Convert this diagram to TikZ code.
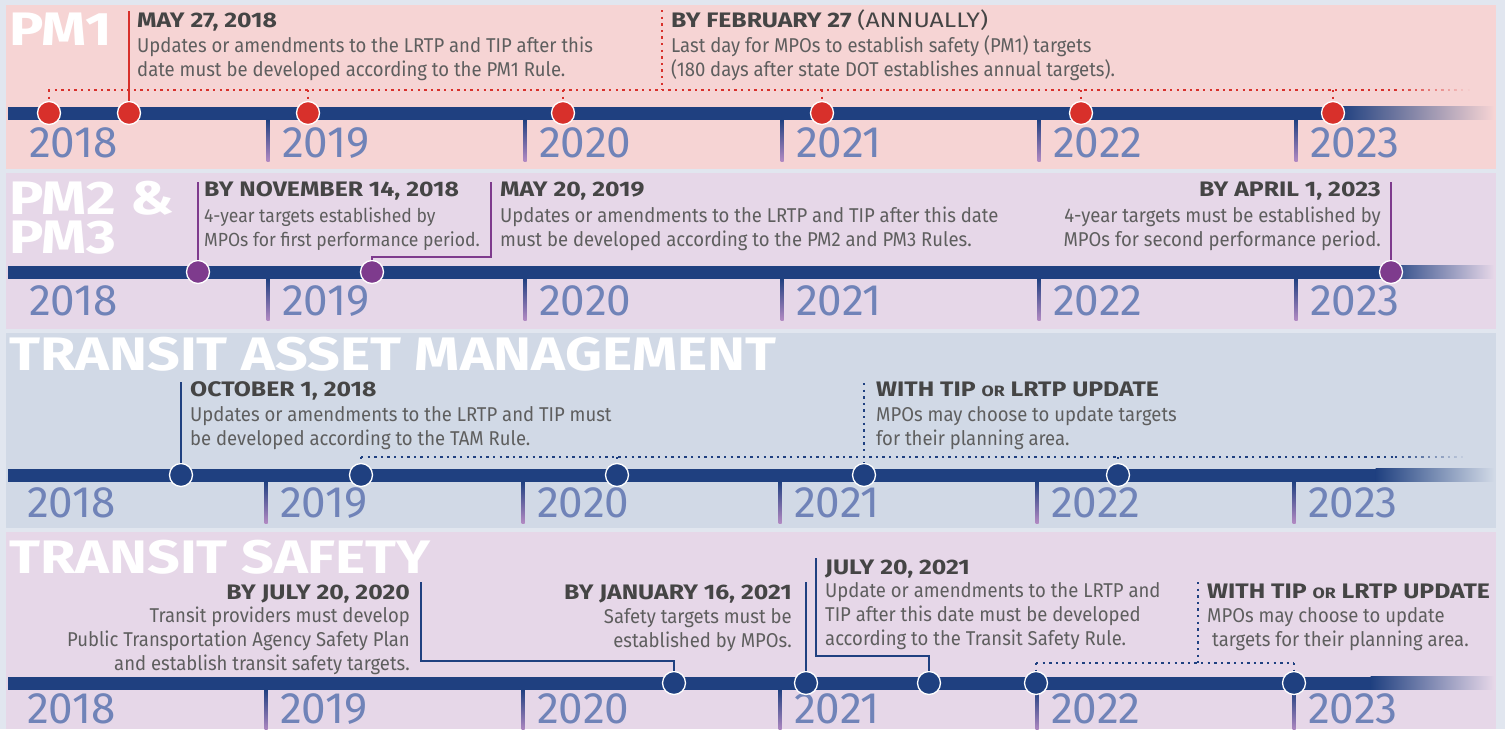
\documentclass[tikz,border=0pt]{standalone}
\usepackage{fontspec}
\usetikzlibrary{fadings}

\newfontfamily\bodyfont{Fira Sans}[FakeStretch=0.925]
\newfontfamily\headfont{Fira Sans}[FakeStretch=1.18]
\newfontfamily\titlefont{Fira Sans}[FakeStretch=1.22]
\newfontfamily\yearfont{Fira Sans}

\definecolor{bggray}{HTML}{E1E6EF}
\definecolor{pmonebg}{HTML}{F6D4D4}
\definecolor{pmtwobg}{HTML}{E6D7E8}
\definecolor{tambg}{HTML}{D1D9E6}
\definecolor{navy}{HTML}{1F4080}
\definecolor{dotred}{HTML}{D8302B}
\definecolor{plum}{HTML}{7E3B8D}
\definecolor{yeartxt}{HTML}{7083B8}
\definecolor{headtxt}{HTML}{454545}
\definecolor{bodytxt}{HTML}{5E5E5E}
\definecolor{ticklow}{HTML}{B38AC3}

\tikzfading[name=fadeout, left color=transparent!0, right color=transparent!100]

\tikzset{
  paneltitle/.style={anchor=base west, inner sep=0pt, text=white, align=left,
    font=\titlefont\bfseries\fontsize{47}{39}\selectfont},
  datehead/.style={anchor=base west, inner sep=0pt, text=headtxt,
    font=\headfont\bfseries\fontsize{21}{24}\selectfont},
  datebody/.style={anchor=base west, inner sep=0pt, text=bodytxt, align=left,
    font=\bodyfont\fontsize{20}{24}\selectfont},
  yearlbl/.style={anchor=base west, inner sep=0pt, text=yeartxt,
    font=\yearfont\fontsize{44}{44}\selectfont},
  tldot/.style={circle, fill=#1, draw=white, line width=1.3pt, minimum size=23pt, inner sep=0pt},
  solidlink/.style={draw=#1, line width=2.6pt},
  dotlink/.style={draw=#1, line width=2.4pt, dash pattern=on 2.4pt off 4.2pt},
}

\begin{document}
\begin{tikzpicture}[x=1pt,y=-1pt]
\fill[bggray] (0,0) rectangle (1505,729);
\useasboundingbox (0,0) rectangle (1505,729);

% panels
\fill[pmonebg] (6,5) rectangle (1496,169);
\fill[pmtwobg] (6,173) rectangle (1496,329);
\fill[tambg] (6,333) rectangle (1496,528);
\fill[pmtwobg] (6,532) rectangle (1496,729);

% timeline bars, year ticks and years
\foreach \by/\bend/\bgc/\dx/\ty [count=\r] in {113/1340/pmonebg/0/44, 272/1385/pmtwobg/0/43, 475/1376/tambg/-2/42, 683/1371/pmtwobg/-2/40} {
    \fill[navy] (8,\by-6.5) rectangle (\bend,\by+6.5);
    \shade[left color=navy, right color=\bgc] (\bend-0.5,\by-6.5) rectangle (1494,\by+6.5);
    \node[yearlbl] (yr\r-0) at (29+\dx,\by+\ty) {2018};
    \foreach \yr [count=\k] in {2019,2020,2021,2022,2023} {
        \shade[top color=navy, bottom color=ticklow] (11+257*\k+\dx-1.5,\by+6.5) rectangle +(3,42);
        \node[yearlbl] (yr\r-\k) at (25+257*\k+\dx,\by+\ty) {\yr};
    }
}

% panel titles
\node[paneltitle] (tpmone) at (9,45) {PM1};
\node[paneltitle] (tpmtwo) at (9,253) {PM2 \&\\PM3};
\node[paneltitle] (ttam) at (9,370) {TRANSIT ASSET MANAGEMENT};
\node[paneltitle] (tsafe) at (9,573) {TRANSIT SAFETY};

% PM1
\foreach \x [count=\i] in {49,129,308,563,822,1081,1333}
    \node[tldot=dotred] (pa\i) at (\x,113) {};
\coordinate (pmonetop) at (129,11);
\coordinate (febtop) at (662,10);
\coordinate (febhl) at (662,90);
\coordinate (pmonehl) at (48,90);
\coordinate (pmonefade) at (1395,90);
\coordinate (pmoneend) at (1470,90);
\draw[solidlink=dotred] (pmonetop) -- (pa2);
\draw[dotlink=dotred] (febtop) -- (febhl);
\draw[dotlink=dotred] (pmonehl) -- (pmonefade);
\draw[dotlink=dotred, path fading=fadeout] (pmonefade) -- (pmoneend);
\foreach \i in {1,3,4,5,6,7}
    \draw[dotlink=dotred] (pa\i |- pmonehl) -- (pa\i);

\node[datehead] (hmay18) at (137,27) {MAY 27, 2018};
\node[datebody] (bmay18) at (137,76) {Updates or amendments to the LRTP and TIP after this\\date must be developed according to the PM1 Rule.};
\node[datehead] (hfeb) at (671,27) {BY FEBRUARY 27 {\mdseries (ANNUALLY)}};
\node[datebody] (bfeb) at (671,76) {Last day for MPOs to establish safety (PM1) targets\\(180 days after state DOT establishes annual targets).};

% PM2 & PM3
\node[tldot=plum] (pb1) at (198,272) {};
\node[tldot=plum] (pb2) at (372,272) {};
\node[tldot=plum] (pb3) at (1391,272) {};
\coordinate (novtop) at (198,182);
\coordinate (maytop) at (491,182);
\coordinate (maybend) at (491,257);
\coordinate (aprtop) at (1391,182);
\draw[solidlink=plum] (novtop) -- (pb1);
\draw[solidlink=plum] (maytop) -- (maybend) -| (pb2);
\draw[solidlink=plum] (aprtop) -- (pb3);

\node[datehead] (hnov) at (204,196) {BY NOVEMBER 14, 2018};
\node[datebody, font=\bodyfont\fontsize{19}{24}\selectfont] (bnov) at (204,246) {4-year targets established by\\MPOs for first performance period.};
\node[datehead] (hmay19) at (500,196) {MAY 20, 2019};
\node[datebody] (bmay19) at (500,246) {Updates or amendments to the LRTP and TIP after this date\\must be developed according to the PM2 and PM3 Rules.};
\node[datehead, anchor=base east] (hapr) at (1381,196) {BY APRIL 1, 2023};
\node[datebody, anchor=base east, align=right] (bapr) at (1381,246) {4-year targets must be established by\\MPOs for second performance period.};

% transit asset management
\foreach \x [count=\i] in {181,361,617,864,1118}
    \node[tldot=navy] (pc\i) at (\x,475) {};
\coordinate (octtop) at (181,382);
\coordinate (tamtiptop) at (864,383);
\coordinate (tamhl) at (361,457);
\coordinate (tamfade) at (1395,457);
\coordinate (tamend) at (1467,457);
\draw[solidlink=navy] (octtop) -- (pc1);
\draw[dotlink=navy] (tamtiptop) -- (pc4);
\draw[dotlink=navy] (tamhl) -- (tamfade);
\draw[dotlink=navy, path fading=fadeout] (tamfade) -- (tamend);
\foreach \i in {2,3,5}
    \draw[dotlink=navy] (pc\i |- tamhl) -- (pc\i);

\node[datehead] (hoct) at (190,396) {OCTOBER 1, 2018};
\node[datebody] (boct) at (190,445) {Updates or amendments to the LRTP and TIP must\\be developed according to the TAM Rule.};
\node[datehead] (htamtip) at (876,396) {WITH TIP {\fontsize{15}{15}\selectfont OR} LRTP UPDATE};
\node[datebody] (btamtip) at (876,445) {MPOs may choose to update targets\\for their planning area.};

% transit safety
\foreach \x [count=\i] in {674,806,929,1036,1294}
    \node[tldot=navy] (pd\i) at (\x,683) {};
\coordinate (jultop) at (421,582);
\coordinate (julbend) at (421,661);
\coordinate (jantop) at (806,582);
\coordinate (juloutop) at (816,558);
\coordinate (juloubend) at (816,656);
\coordinate (tstiptop) at (1198,582);
\coordinate (tshl) at (1198,663);
\draw[solidlink=navy] (jultop) -- (julbend) -| (pd1);
\draw[solidlink=navy] (jantop) -- (pd2);
\draw[solidlink=navy] (juloutop) -- (juloubend) -| (pd3);
\draw[dotlink=navy] (tstiptop) -- (tshl);
\draw[dotlink=navy] (pd4 |- tshl) -- (pd5 |- tshl);
\foreach \i in {4,5}
    \draw[dotlink=navy] (pd\i |- tshl) -- (pd\i);

\node[datehead, anchor=base east] (hjul20) at (410,599) {BY JULY 20, 2020};
\node[datebody, anchor=base east, align=right] (bjul20) at (410,670) {Transit providers must develop\\Public Transportation Agency Safety Plan\\and establish transit safety targets.};
\node[datehead, anchor=base east] (hjan) at (792,599) {BY JANUARY 16, 2021};
\node[datebody, anchor=base east, align=right] (bjan) at (792,647) {Safety targets must be\\established by MPOs.};
\node[datehead] (hjul21) at (825,574) {JULY 20, 2021};
\node[datebody] (bjul21) at (825,645) {Update or amendments to the LRTP and\\TIP after this date must be developed\\according to the Transit Safety Rule.};
\node[datehead] (htstip) at (1207,598) {WITH TIP {\fontsize{15}{15}\selectfont OR} LRTP UPDATE};
\node[datebody] (btstip) at (1207,646) {MPOs may choose to update\\\hspace*{5pt}targets for their planning area.};
\end{tikzpicture}
\end{document}
